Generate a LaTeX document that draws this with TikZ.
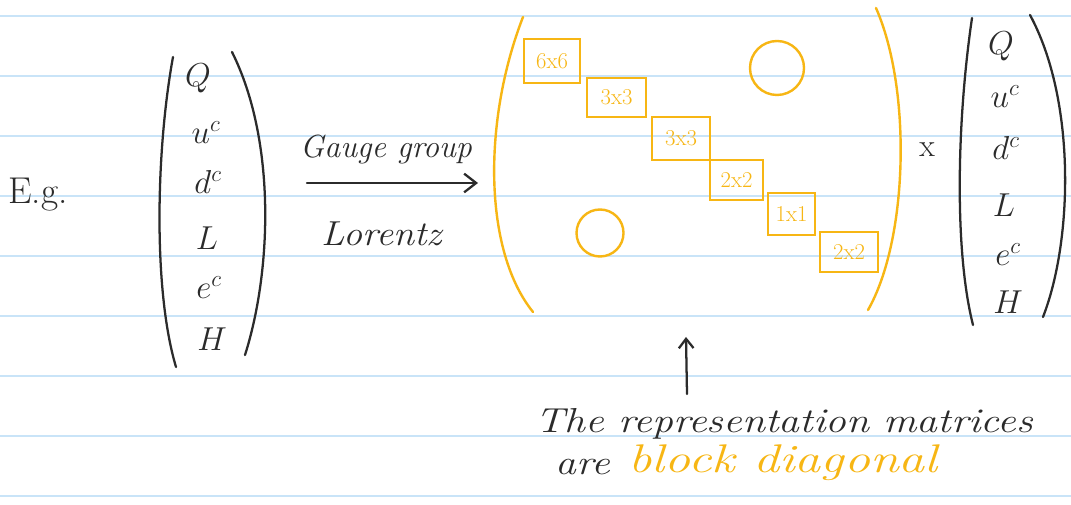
\documentclass[tikz,border=0pt]{standalone}
\usepackage{graphicx}
\usetikzlibrary{arrows.meta}
\definecolor{inkc}{HTML}{2B2B2B}
\definecolor{goldc}{HTML}{F7B614}
\definecolor{rulec}{HTML}{C9E4F8}
\begin{document}
\begin{tikzpicture}[x=0.75pt,y=-0.75pt,
  rule/.style={draw=rulec,line width=2pt},
  pen/.style={draw=inkc,line width=1.7pt,line cap=round,line join=round},
  gpen/.style={draw=goldc,line width=1.8pt,line cap=round,line join=round},
  hand/.style={text=inkc,font=\itshape\fontsize{26}{30}\selectfont,inner sep=0pt},
  ghand/.style={text=goldc,font=\itshape\fontsize{30}{34}\selectfont,inner sep=0pt},
  entry/.style={text=inkc,font=\fontsize{24}{28}\selectfont,inner sep=0pt},
  blk/.style={draw=goldc,line width=1.7pt,text=goldc,font=\fontsize{17}{19}\selectfont,inner sep=0pt},
  zero/.style={circle,draw=goldc,line width=1.8pt,inner sep=0pt}
]
\useasboundingbox (0,0) rectangle (1071,505);
\fill[white] (0,0) rectangle (1071,505);
\foreach \y in {16,76,...,496} \draw[rule] (0,\y) -- (1071,\y);

% E.g.
\node[hand,font=\fontsize{28}{32}\selectfont] (eg) at (38,195) {E.g.};

% left column vector
\draw[pen] (173,57) .. controls (156,150) and (153,290) .. (176,367);
\draw[pen] (232,52) .. controls (276,140) and (272,270) .. (245,355);
\node[entry] (q1) at (198,78) {$Q$};
\node[entry] (u1) at (206,133) {$u^c$};
\node[entry] (d1) at (208,182) {$d^c$};
\node[entry] (l1) at (207,238) {$L$};
\node[entry] (e1) at (209,288) {$e^c$};
\node[entry] (h1) at (212,339) {$H$};

% arrow with labels
\coordinate (as) at (307,183);
\coordinate (ae) at (478,183);
\draw[pen,-{Straight Barb[length=9pt,width=14pt]}] (as) -- (ae);
\node[hand,font=\itshape\fontsize{24}{28}\selectfont] (gg) at (386,150) {Gauge group};
\node[hand,font=\itshape\fontsize{26}{30}\selectfont] (lor) at (382,234) {\scalebox{1.1}[1]{Lorentz}};

% yellow matrix
\draw[gpen] (523,17) .. controls (483,120) and (483,250) .. (533,312);
\draw[gpen] (876,8) .. controls (912,90) and (908,240) .. (868,310);
\node[blk,minimum width=56*0.75pt,minimum height=44*0.75pt] (b1) at (552,61) {6x6};
\node[blk,minimum width=59*0.75pt,minimum height=39*0.75pt] (b2) at (616.5,97.5) {3x3};
\node[blk,minimum width=58*0.75pt,minimum height=43*0.75pt] (b3) at (681,138.5) {3x3};
\node[blk,minimum width=53*0.75pt,minimum height=40*0.75pt] (b4) at (736.5,180) {2x2};
\node[blk,minimum width=47*0.75pt,minimum height=42*0.75pt] (b5) at (791.5,214) {1x1};
\node[blk,minimum width=58*0.75pt,minimum height=40*0.75pt] (b6) at (849,252) {2x2};
\node[zero,minimum size=54*0.75pt] (z1) at (777,68) {};
\node[zero,minimum size=47*0.75pt] (z2) at (600,233) {};

% times
\node[hand,font=\fontsize{24}{28}\selectfont] (times) at (927,150) {x};

% right column vector
\draw[pen] (972,18) .. controls (957,120) and (954,250) .. (973,325);
\draw[pen] (1030,15) .. controls (1076,100) and (1073,240) .. (1043,317);
\node[entry] (q2) at (1001,46) {$Q$};
\node[entry] (u2) at (1005,97) {$u^c$};
\node[entry] (d2) at (1006,148) {$d^c$};
\node[entry] (l2) at (1004,205) {$L$};
\node[entry] (e2) at (1008,255) {$e^c$};
\node[entry] (h2) at (1008,302) {$H$};

% annotation
\node[hand,anchor=west] (note1) at (535,424) {\scalebox{1.2}[1]{The representation matrices}};
\node[hand,anchor=west] (are) at (555,467) {\scalebox{1.2}[1]{are}};
\node[ghand,anchor=west] (bd) at (628,463) {\scalebox{1.3}[1]{block diagonal}};
\coordinate (tip) at (686,337);
\coordinate (tail) at (687,394);
\draw[pen,-{Straight Barb[length=7pt,width=11pt]}] (tail) -- (tip);
\end{tikzpicture}
\end{document}
